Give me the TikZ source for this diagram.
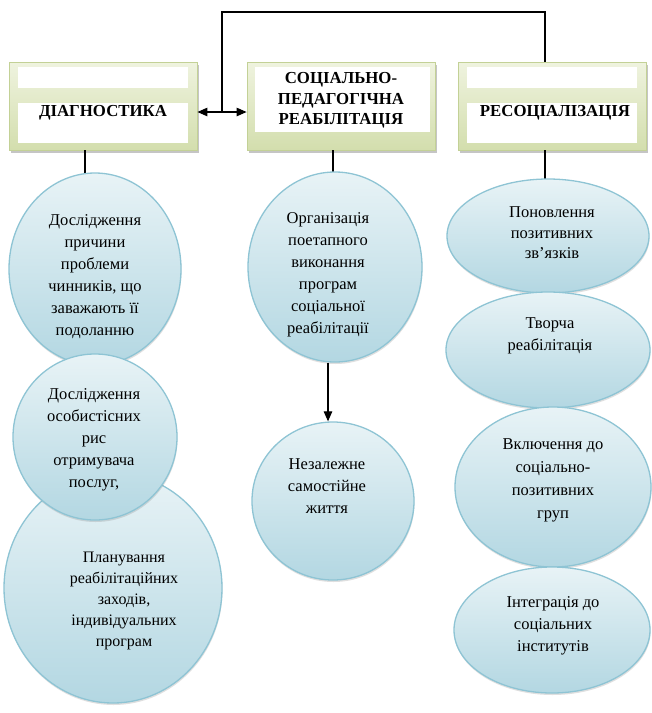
\documentclass[tikz,border=0pt]{standalone}
\usepackage{fontspec}
\setmainfont{Liberation Serif}
\usetikzlibrary{shapes.geometric,arrows.meta,shadows}
\definecolor{boxfillA}{HTML}{EFF3DF}
\definecolor{boxfillB}{HTML}{D3DEAD}
\definecolor{boxline}{HTML}{C3D196}
\definecolor{ellA}{HTML}{E8F3F6}
\definecolor{ellB}{HTML}{B3D7E2}
\definecolor{ellline}{HTML}{8EC4D4}
\begin{document}
\begin{tikzpicture}[x=1pt,y=-1pt,
  hdr/.style={rectangle, minimum width=188pt, minimum height=88pt, top color=boxfillA, bottom color=boxfillB, draw=boxline, line width=0.8pt, drop shadow={shadow xshift=1.5pt,shadow yshift=-2.5pt,opacity=0.45}, inner sep=0pt},
  band/.style={rectangle, fill=white, inner sep=0pt},
  htext/.style={font=\fontsize{16.8}{20.5}\selectfont\bfseries, align=center, inner sep=0pt},
  oval/.style={ellipse, draw=ellline, line width=1.3pt, top color=ellA, bottom color=ellB, inner sep=0pt, drop shadow={shadow xshift=0.5pt,shadow yshift=-2pt,opacity=0.25}},
  otext/.style={align=center, inner sep=0pt, font=\fontsize{16.5}{22}\selectfont},
  conn/.style={draw=black, line width=1.1pt},
  tipd/.style={-{Triangle[length=10pt,width=8.5pt]}},
  tipb/.style={{Triangle[length=10pt,width=8.5pt]}-{Triangle[length=10pt,width=8.5pt]}}
]
\useasboundingbox (0,0) rectangle (652,713);
\fill[white] (0,0) rectangle (652,713);

% header boxes
\node[hdr] (b1) at (103,106) {};
\node[band, minimum width=170pt, minimum height=21pt] (b1top) at (103,77.5) {};
\node[band, minimum width=170pt, minimum height=40pt] (b1low) at (103,123) {};
\node[htext] (b1t) at (103,113) {ДІАГНОСТИКА};

\node[hdr] (b2) at (341,106) {};
\node[band, minimum width=175pt, minimum height=65pt] (b2band) at (342,99.5) {};
\node[htext] (b2t) at (341,100.5) {СОЦІАЛЬНО-\\ПЕДАГОГІЧНА\\РЕАБІЛІТАЦІЯ};

\node[hdr] (b3) at (552,106) {};
\node[band, minimum width=170pt, minimum height=21pt] (b3top) at (552,77.5) {};
\node[band, minimum width=170pt, minimum height=40pt] (b3low) at (552,123) {};
\node[htext] (b3t) at (555,113) {РЕСОЦІАЛІЗАЦІЯ};

% connectors
\coordinate (j) at (222,112);
\coordinate (t) at (545,12);
\draw[conn,tipb] (b1.east |- j) -- (b2.west |- j);
\draw[conn] (j) |- (t) -- (t |- b3.north);
\coordinate (d1) at (85,185);
\coordinate (d2) at (333,185);
\coordinate (d3) at (545,190);
\draw[conn] (b1.south -| d1) -- (d1);
\draw[conn] (b2.south -| d2) -- (d2);
\draw[conn] (b3.south -| d3) -- (d3);

% left column
\node[oval, minimum width=218pt, minimum height=230pt] (e3) at (113,588) {};
\node[oval, minimum width=172pt, minimum height=192pt] (e1) at (95,269) {};
\node[oval, minimum width=164pt, minimum height=166pt] (e2) at (95,437) {};
\node[otext] (e1t) at (95,277) {Дослідження\\причини\\проблеми\\чинників, що\\заважають її\\подоланню};
\node[otext] (e2t) at (94,440) {Дослідження\\особистісних\\рис\\отримувача\\послуг,};
\node[otext, font=\fontsize{16}{21}\selectfont] (e3t) at (124,601) {Планування\\реабілітаційних\\заходів,\\індивідуальних\\програм};

% middle column
\coordinate (ma) at (328,0);
\node[oval, minimum width=174pt, minimum height=190pt] (m1) at (335,267) {};
\node[oval, minimum width=162pt, minimum height=158pt] (m2) at (333,501) {};
\draw[conn,tipd] (m1.south -| ma) -- (m2.north -| ma);
\node[otext] (m1t) at (328,275) {Організація\\поетапного\\виконання\\програм\\соціальної\\реабілітації};
\node[otext] (m2t) at (327,486) {Незалежне\\самостійне\\життя};

% right column
\node[oval, minimum width=202pt, minimum height=114pt] (r1) at (548,236) {};
\node[oval, minimum width=204pt, minimum height=116pt] (r2) at (548,350) {};
\node[oval, minimum width=196pt, minimum height=160pt] (r3) at (553,487) {};
\node[oval, minimum width=196pt, minimum height=126pt] (r4) at (552,630) {};
\node[otext, font=\fontsize{16.5}{20.5}\selectfont] (r1t) at (552,233) {Поновлення\\позитивних\\зв’язків};
\node[otext] (r2t) at (550,336) {Творча\\реабілітація};
\node[otext, font=\fontsize{16.5}{23}\selectfont] (r3t) at (553,480) {Включення до\\соціально-\\позитивних\\груп};
\node[otext] (r4t) at (553,626) {Інтеграція до\\соціальних\\інститутів};
\end{tikzpicture}
\end{document}
